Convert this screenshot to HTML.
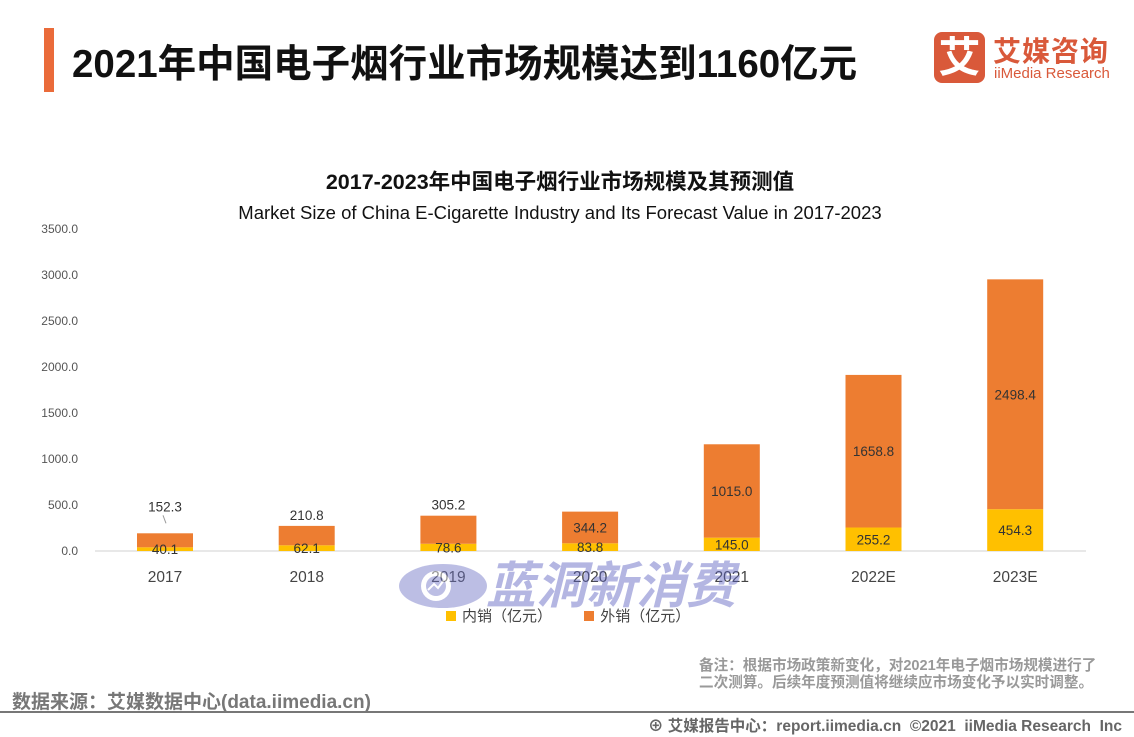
<!DOCTYPE html>
<html><head><meta charset="utf-8">
<style>
body{margin:0;width:1134px;height:737px;background:#fff;position:relative;overflow:hidden;font-family:"Liberation Sans","Noto Sans CJK SC",sans-serif;}
.abs{position:absolute;}
</style></head>
<body>
<div class="abs" style="left:44px;top:28px;width:10px;height:64px;background:#ea6b3a"></div>
<div class="abs" style="left:72px;top:33px;font-size:38.5px;font-weight:bold;color:#111;white-space:nowrap">2021年中国电子烟行业市场规模达到1160亿元</div>
<div class="abs" style="left:934px;top:32px;width:51px;height:51px;background:#d9593a;border-radius:8px;color:#fff;font-size:42px;font-weight:bold;line-height:51px;text-align:center">艾</div>
<div class="abs" style="left:993px;top:30px;color:#d9593a;font-size:28px;font-weight:bold;white-space:nowrap;letter-spacing:1px">艾媒咨询</div>
<div class="abs" style="left:994px;top:65px;color:#d9593a;font-size:15px;white-space:nowrap">iiMedia Research</div>

<div class="abs" style="left:0;width:1120px;top:165px;text-align:center;font-size:21.5px;font-weight:bold;color:#111">2017-2023年中国电子烟行业市场规模及其预测值</div>
<div class="abs" style="left:0;width:1120px;top:202px;text-align:center;font-size:18.5px;color:#111">Market Size of China E-Cigarette Industry and Its Forecast Value in 2017-2023</div>

<svg class="abs" style="left:0;top:0" width="1134" height="737" id="chart"></svg>

<div class="abs" style="left:398px;top:556px;width:340px;height:60px;opacity:0.45;pointer-events:none">
<svg width="90" height="60" style="position:absolute;left:0;top:0"><ellipse cx="45" cy="30" rx="44" ry="22" fill="#6d71c4"/><circle cx="38" cy="30" r="15" fill="#fff"/><circle cx="38" cy="30" r="10" fill="#6d71c4"/><path d="M30 34 L36 28 L40 32 L46 24" stroke="#fff" stroke-width="2" fill="none"/></svg>
<div style="position:absolute;left:88px;top:0;font-size:50px;font-weight:bold;font-style:italic;color:#5a5fc0;white-space:nowrap;line-height:60px">蓝洞新消费</div>
</div>

<div class="abs" style="left:446px;top:605px;font-size:15px;color:#444;white-space:nowrap">
<span><span style="display:inline-block;width:10px;height:10px;background:#ffc000;margin-right:6px"></span>内销（亿元）</span>
<span style="margin-left:28px"><span style="display:inline-block;width:10px;height:10px;background:#ed7d31;margin-right:6px"></span>外销（亿元）</span>
</div>

<div class="abs" style="left:699px;top:658px;font-size:14.6px;font-weight:bold;color:#999;line-height:17px;white-space:nowrap">备注：根据市场政策新变化，对2021年电子烟市场规模进行了<br>二次测算。后续年度预测值将继续应市场变化予以实时调整。</div>
<div class="abs" style="left:12px;top:687px;font-size:19px;font-weight:bold;color:#777;white-space:nowrap">数据来源：艾媒数据中心(data.iimedia.cn)</div>
<div class="abs" style="left:0;top:711px;width:1134px;height:2px;background:#777"></div>
<div class="abs" style="left:648px;top:714px;font-size:15.5px;font-weight:bold;color:#666;white-space:nowrap">⊕ 艾媒报告中心：report.iimedia.cn &nbsp;©2021 &nbsp;iiMedia Research &nbsp;Inc</div>

<script>
const categories=["2017","2018","2019","2020","2021","2022E","2023E"];
const domestic=[40.1,62.1,78.6,83.8,145.0,255.2,454.3];
const exportVals=[152.3,210.8,305.2,344.2,1015.0,1658.8,2498.4];
const yTicks=[0,500,1000,1500,2000,2500,3000,3500];
const svg=document.getElementById('chart');
const NS='http://www.w3.org/2000/svg';
const y0=551,y1=229,yMax=3500;
const y=v=>y0-(v/yMax)*(y0-y1);
const x=i=>165+i*141.7;
const bw=56;
function mk(t,a){const e=document.createElementNS(NS,t);for(const k in a)e.setAttribute(k,a[k]);svg.appendChild(e);return e;}
yTicks.forEach(v=>{const t=mk('text',{x:78,y:y(v)+4,'text-anchor':'end','font-size':12,fill:'#555'});t.textContent=v.toFixed(1);

});
const ax=mk('line',{x1:95,x2:1086,y1:y0,y2:y0,stroke:'#d0d0d0','stroke-width':1});


categories.forEach((c,i)=>{
  const cx=x(i);
  const r1=mk('rect',{x:cx-bw/2,y:y(domestic[i]),width:bw,height:y0-y(domestic[i]),fill:'#ffc000'});
  
  
  const top=domestic[i]+exportVals[i];
  const r2=mk('rect',{x:cx-bw/2,y:y(top),width:bw,height:y(domestic[i])-y(top),fill:'#ed7d31'});
  
  
  const l1=mk('text',{x:cx,y:(y0+y(domestic[i]))/2+5,'text-anchor':'middle','font-size':13.5,fill:'#333'});
  l1.textContent=domestic[i].toFixed(1);
  
  
  let ly=(y(domestic[i])+y(top))/2+5;
  if(y(domestic[i])-y(top)<30) ly=y(top)-6;
  if(i===0){ly=y(top)-22;mk('line',{x1:cx-2,y1:y(top)-18,x2:cx+1,y2:y(top)-10,stroke:'#999','stroke-width':1});}
  const l2=mk('text',{x:cx,y:ly,'text-anchor':'middle','font-size':13.5,fill:'#333'});
  l2.textContent=exportVals[i].toFixed(1);
  
  
  const xl=mk('text',{x:cx,y:582,'text-anchor':'middle','font-size':15.5,fill:'#444'});
  xl.textContent=c;
  
  
});
</script>
</body></html>
